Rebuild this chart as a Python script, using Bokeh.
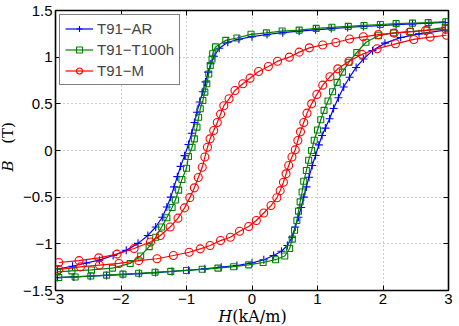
import math
from bokeh.plotting import figure
from bokeh.models import (Range1d, FixedTicker, LinearAxis, Legend, LegendItem,
                          CustomJSTickFormatter)
from bokeh.core.properties import value
from bokeh.embed import file_html
from bokeh.resources import INLINE

# ---------------- data (H in kA/m, B in T) ----------------
ar_desc_h = [2.95, 2.70, 2.45, 2.20, 1.95, 1.70, 1.46, 1.21, 0.97, 0.72, 0.47, 0.23, 0.00,
             -0.20, -0.37, -0.50, -0.58, -0.63, -0.67, -0.71, -0.75, -0.80, -0.84, -0.88,
             -0.92, -0.97, -1.03, -1.09, -1.14, -1.19, -1.24, -1.30, -1.37, -1.47, -1.59,
             -1.74, -1.92, -2.12, -2.33, -2.53, -2.74, -2.97]
ar_desc_b = [1.372, 1.365, 1.357, 1.348, 1.339, 1.329, 1.318, 1.306, 1.293, 1.278, 1.262,
             1.243, 1.220, 1.192, 1.160, 1.095, 1.010, 0.930, 0.840, 0.735, 0.630, 0.520,
             0.410, 0.300, 0.185, 0.065, -0.055, -0.170, -0.280, -0.390, -0.500, -0.605,
             -0.715, -0.820, -0.910, -0.995, -1.070, -1.125, -1.175, -1.205, -1.240, -1.270]
ar_asc_h = [-2.97, -2.72, -2.47, -2.22, -1.97, -1.72, -1.47, -1.22, -0.97, -0.72, -0.47,
            -0.23, 0.00, 0.18, 0.33, 0.45, 0.54, 0.61, 0.66, 0.71, 0.75, 0.79, 0.83, 0.87,
            0.92, 0.97, 1.02, 1.07, 1.12, 1.185, 1.245, 1.32, 1.40, 1.49, 1.59, 1.70, 1.84,
            2.03, 2.27, 2.55, 2.95]
ar_asc_b = [-1.362, -1.355, -1.347, -1.338, -1.329, -1.319, -1.308, -1.296, -1.283, -1.268,
            -1.250, -1.232, -1.205, -1.170, -1.125, -1.080, -1.018, -0.930, -0.820, -0.715,
            -0.610, -0.500, -0.390, -0.286, -0.160, -0.054, 0.060, 0.160, 0.240, 0.340,
            0.450, 0.565, 0.680, 0.785, 0.890, 0.980, 1.070, 1.150, 1.210, 1.250, 1.290]

t100_desc_h = [2.96, 2.69, 2.45, 2.20, 1.96, 1.71, 1.47, 1.22, 0.98, 0.72, 0.46, 0.22, -0.015,
               -0.23, -0.40, -0.557, -0.60, -0.61, -0.637, -0.66, -0.69, -0.72, -0.75, -0.79,
               -0.815, -0.84, -0.88, -0.916, -0.97, -1.00, -1.07, -1.12, -1.17, -1.22, -1.30,
               -1.38, -1.47, -1.57, -1.70, -1.86, -2.13, -2.45, -2.75, -2.97]
t100_desc_b = [1.380, 1.370, 1.365, 1.360, 1.350, 1.340, 1.330, 1.320, 1.308, 1.290, 1.280,
               1.260, 1.245, 1.205, 1.180, 1.110, 1.036, 0.980, 0.910, 0.820, 0.715, 0.625,
               0.536, 0.447, 0.357, 0.250, 0.125, 0.035, -0.064, -0.190, -0.310, -0.425,
               -0.530, -0.610, -0.720, -0.820, -0.930, -1.030, -1.130, -1.210, -1.260, -1.280,
               -1.290, -1.300]
t100_asc_h = [-2.95, -2.70, -2.46, -2.22, -1.97, -1.73, -1.48, -1.24, -1.00, -0.76, -0.52,
              -0.28, -0.05, 0.17, 0.36, 0.50, 0.575, 0.615, 0.65, 0.685, 0.71, 0.735, 0.765,
              0.79, 0.83, 0.865, 0.91, 0.95, 1.00, 1.05, 1.10, 1.16, 1.23, 1.30, 1.38, 1.48,
              1.60, 1.74, 1.93, 2.16, 2.42, 2.67, 2.95]
t100_asc_b = [-1.360, -1.355, -1.345, -1.335, -1.325, -1.315, -1.305, -1.295, -1.285, -1.273,
              -1.260, -1.245, -1.225, -1.200, -1.170, -1.130, -1.050, -0.950, -0.855, -0.750,
              -0.650, -0.550, -0.445, -0.330, -0.215, -0.105, 0.000, 0.110, 0.220, 0.330,
              0.430, 0.530, 0.630, 0.730, 0.840, 0.946, 1.050, 1.160, 1.230, 1.260, 1.275,
              1.290, 1.320]

m_desc_h = [2.96, 2.65, 2.41, 2.17, 1.93, 1.70, 1.49, 1.28, 1.08, 0.875, 0.72, 0.57, 0.39,
            0.25, 0.10, -0.03, -0.14, -0.26, -0.35, -0.43, -0.48, -0.53, -0.585, -0.64, -0.68,
            -0.72, -0.76, -0.82, -0.88, -0.95, -1.03, -1.13, -1.25, -1.40, -1.55, -1.80,
            -2.06, -2.34, -2.64, -2.95]
m_desc_b = [1.300, 1.286, 1.270, 1.258, 1.242, 1.218, 1.195, 1.157, 1.130, 1.100, 1.054,
            1.000, 0.957, 0.900, 0.847, 0.775, 0.715, 0.643, 0.554, 0.480, 0.390, 0.300,
            0.214, 0.125, 0.035, -0.070, -0.180, -0.290, -0.400, -0.505, -0.615, -0.725,
            -0.820, -0.910, -0.980, -1.050, -1.110, -1.150, -1.180, -1.200]
m_asc_h = [-2.95, -2.62, -2.33, -2.03, -1.73, -1.45, -1.20, -0.96, -0.79, -0.64, -0.48, -0.33,
           -0.19, -0.05, 0.066, 0.18, 0.29, 0.38, 0.43, 0.48, 0.52, 0.56, 0.61, 0.66, 0.70,
           0.74, 0.79, 0.84, 0.91, 0.99, 1.08, 1.19, 1.31, 1.48, 1.68, 1.91, 2.19, 2.47,
           2.72, 2.97]
m_asc_b = [-1.275, -1.247, -1.228, -1.210, -1.180, -1.160, -1.125, -1.090, -1.054, -1.018,
           -0.965, -0.930, -0.865, -0.815, -0.750, -0.670, -0.590, -0.507, -0.430, -0.340,
           -0.250, -0.160, -0.070, 0.007, 0.107, 0.200, 0.300, 0.400, 0.500, 0.600, 0.700,
           0.790, 0.875, 0.957, 1.030, 1.090, 1.143, 1.190, 1.215, 1.235]

series_names = ["T91\u2212AR", "T91\u2212T100h", "T91\u2212M"]
x_ticks = [-3, -2, -1, 0, 1, 2, 3]
x_tick_labels = ["\u22123", "\u22122", "\u22121", "0", "1", "2", "3"]
y_ticks = [-1.5, -1, -0.5, 0, 0.5, 1, 1.5]
y_tick_labels = ["\u22121.5", "\u22121", "\u22120.5", "0", "0.5", "1", "1.5"]
x_title = ["H", "(kA/m)"]
y_title = ["B", "(T)"]

# ---------------- figure ----------------
p = figure(frame_width=393, frame_height=280, output_backend="svg", toolbar_location=None,
           x_range=Range1d(-3, 3), y_range=Range1d(-1.5, 1.5),
           min_border_left=55, min_border_right=11, min_border_top=10, min_border_bottom=36)
p.background_fill_color = "white"
p.border_fill_color = "white"
p.outline_line_color = "black"
p.outline_line_width = 1.6

TICK_FONT = "Liberation Sans"
for ax, ticks, labels in ((p.xaxis[0], x_ticks, x_tick_labels), (p.yaxis[0], y_ticks, y_tick_labels)):
    ax.ticker = FixedTicker(ticks=ticks)
    ax.major_label_overrides = {t: l for t, l in zip(ticks, labels)}
    ax.major_label_text_font = TICK_FONT
    ax.major_label_text_font_size = "15px"
    ax.major_label_text_color = "black"
    ax.major_tick_in = 5
    ax.major_tick_out = 0
    ax.minor_tick_line_color = None
    ax.axis_line_color = None
    ax.major_tick_line_color = "black"
    ax.major_label_standoff = 3

blank = CustomJSTickFormatter(code="return '';")
top_ax = LinearAxis(ticker=FixedTicker(ticks=x_ticks), formatter=blank, major_tick_in=5,
                    major_tick_out=0, minor_tick_line_color=None, axis_line_color=None,
                    major_label_standoff=0, major_label_text_font_size="0px")
right_ax = LinearAxis(ticker=FixedTicker(ticks=y_ticks), formatter=blank, major_tick_in=5,
                      major_tick_out=0, minor_tick_line_color=None, axis_line_color=None,
                      major_label_standoff=0, major_label_text_font_size="0px")
p.add_layout(top_ax, "above")
p.add_layout(right_ax, "right")

p.xgrid.ticker = FixedTicker(ticks=x_ticks)
p.ygrid.ticker = FixedTicker(ticks=y_ticks)
for g in (p.xgrid[0], p.ygrid[0]):
    g.grid_line_color = "#9a9a9a"
    g.grid_line_dash = "1 3"
    g.grid_line_width = 1

# ---------------- curves ----------------
items = []
specs = [
    (ar_desc_h, ar_desc_b, ar_asc_h, ar_asc_b, "#0000ff", "cross", 8),
    (t100_desc_h, t100_desc_b, t100_asc_h, t100_asc_b, "#008000", "square", 6),
    (m_desc_h, m_desc_b, m_asc_h, m_asc_b, "#ff0000", "circle", 8),
]
for (dh, db, ah, ab, col, mk, sz), name in zip(specs, series_names):
    l1 = p.line(dh, db, line_color=col, line_width=1.2)
    l2 = p.line(ah, ab, line_color=col, line_width=1.2)
    s1 = p.scatter(dh + ah, db + ab, marker=mk, size=sz, line_color=col, fill_color=None,
                   line_width=1.1)
    items.append(LegendItem(label=name, renderers=[l1, s1]))

legend = Legend(items=items, location="top_left", margin=4, padding=5, spacing=4,
                glyph_width=28, glyph_height=15, label_height=15, label_standoff=4,
                label_text_font=TICK_FONT, label_text_font_size="15px",
                border_line_color="black", border_line_width=1.2,
                background_fill_color="white", background_fill_alpha=1)
p.add_layout(legend, "center")

# ---------------- axis titles (text glyphs on the overlay level, not clipped) ----------------
LAB_FONT = value("DejaVu Serif")
p.text(x=[-3.72], y=[-0.225], text=[y_title[0]], angle=math.pi / 2, text_font=LAB_FONT,
       text_font_style="italic", text_font_size="15px", text_baseline="middle",
       text_align="left", text_color="black", level="overlay")
p.text(x=[-3.72], y=[0.072], text=[y_title[1]], angle=math.pi / 2, text_font=LAB_FONT,
       text_font_size="15px", text_baseline="middle", text_align="left",
       text_color="black", level="overlay")
p.text(x=[-0.515], y=[-1.782], text=[x_title[0]], text_font=LAB_FONT,
       text_font_style="italic", text_font_size="16px", text_baseline="alphabetic",
       text_align="left", text_color="black", level="overlay")
p.text(x=[-0.30], y=[-1.782], text=[x_title[1]], text_font=LAB_FONT,
       text_font_size="16px", text_baseline="alphabetic", text_align="left",
       text_color="black", level="overlay")

open("out.html", "w").write(file_html(p, INLINE))
